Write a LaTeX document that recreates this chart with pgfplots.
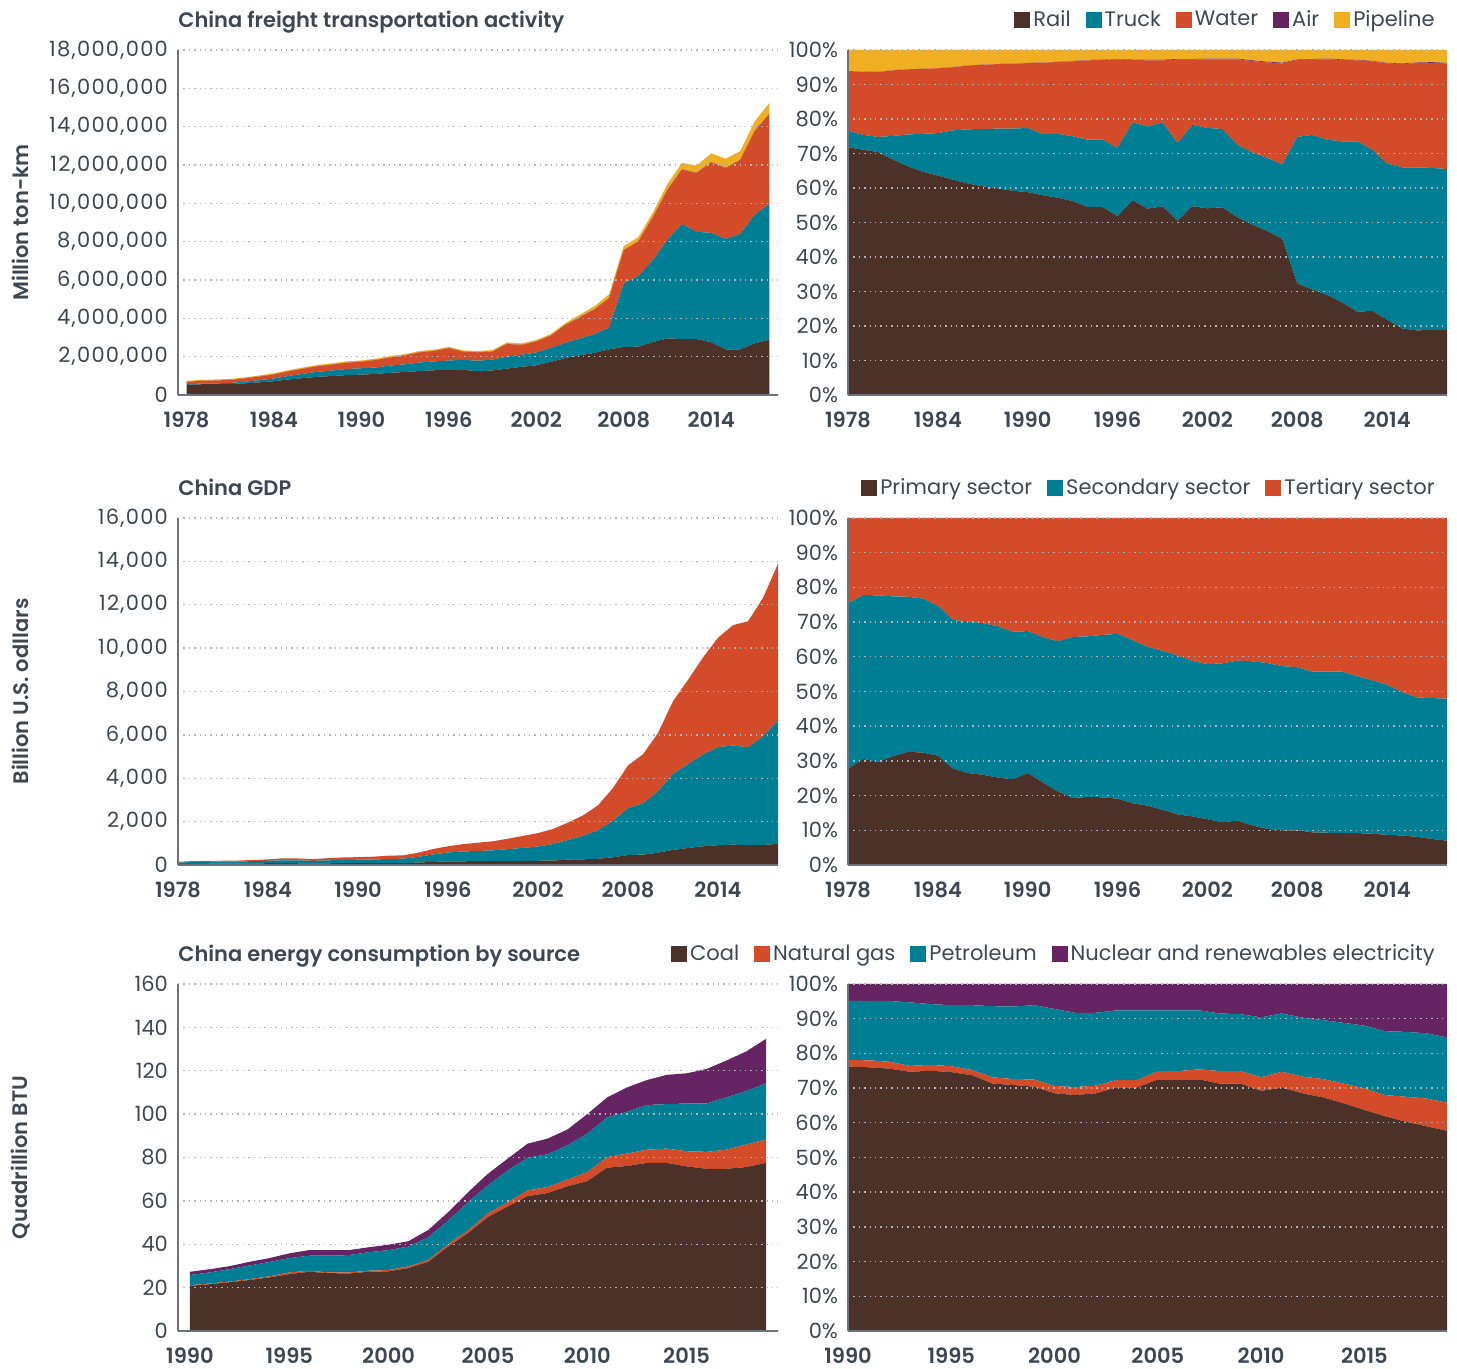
\documentclass[border=0pt]{standalone}
\usepackage{fontspec}
\setmainfont{Poppins}[BoldFont={Poppins SemiBold}]
\usepackage{pgfplots}
\usepackage{pgfplotstable}
\pgfplotsset{compat=1.18}

\definecolor{cBrown}{HTML}{4B3128}
\definecolor{cTeal}{HTML}{007F94}
\definecolor{cRed}{HTML}{D44B29}
\definecolor{cPurple}{HTML}{662562}
\definecolor{cYellow}{HTML}{F0AE22}
\definecolor{txt}{HTML}{3D4752}
\definecolor{axgray}{HTML}{6B747C}
\definecolor{gridgray}{HTML}{B0B5BA}

% freight activity, million ton-km
\pgfplotstableread{
year rail truck water air pipe
1978 530000 35000 128000 100 45000
1979 560000 34000 144000 100 50000
1980 570000 36000 152000 100 52000
1981 570000 58000 159000 100 49000
1982 610000 85000 174000 200 52000
1983 660000 112000 192000 200 56000
1984 720000 139000 213000 300 60000
1985 810000 186000 238000 400 65000
1986 880000 225000 266000 500 65000
1987 950000 261000 292000 700 68000
1988 990000 286000 309000 700 68000
1989 1040000 316000 330000 700 70000
1990 1060000 335000 339000 800 67000
1991 1100000 336000 393000 1000 68000
1992 1160000 375000 422000 1300 69000
1993 1200000 401000 463000 1700 68000
1994 1250000 447000 528000 1900 67000
1995 1290000 462000 547000 2200 66000
1996 1300000 497000 645000 2500 65000
1997 1310000 525000 420000 2900 65000
1998 1240000 546000 441000 3400 67000
1999 1280000 569000 421000 4200 68000
2000 1380000 619000 663000 5000 74000
2001 1470000 634000 508000 4400 73000
2002 1550000 668000 570000 5200 74000
2003 1730000 722000 642000 5800 83000
2004 1930000 787000 930000 7200 97000
2005 2070000 876000 1110000 7900 130000
2006 2200000 982000 1283000 9400 162000
2007 2380000 1130000 1539000 11600 194000
2008 2510000 3303000 1733000 12000 210000
2009 2520000 3689000 1795000 12600 214000
2010 2760000 4283000 2217000 17900 238000
2011 2950000 5142000 2598000 17400 297000
2012 2920000 5987000 2848000 16400 339000
2013 2920000 5590000 3064000 17000 371000
2014 2750000 5712000 3657000 18800 467000
2015 2380000 5758000 3687000 20800 481000
2016 2380000 6021000 3844000 22200 458000
2017 2700000 6702000 4358000 24300 500000
2018 2880000 7102000 4663000 26200 564000
}\freight

% freight shares, percent
\pgfplotstableread{
year rail truck water air pipe
1978 71.8 4.8 17.3 0.02 6.08
1979 71.1 4.3 18.3 0.02 6.28
1980 70.4 4.4 18.8 0.02 6.38
1981 68.2 6.9 19.0 0.02 5.88
1982 66.3 9.2 18.9 0.02 5.58
1983 64.7 11.0 18.8 0.02 5.48
1984 63.6 12.3 18.8 0.02 5.28
1985 62.4 14.3 18.3 0.02 4.98
1986 61.3 15.7 18.5 0.02 4.48
1987 60.5 16.6 18.6 0.03 4.27
1988 59.9 17.3 18.7 0.03 4.07
1989 59.2 18.0 18.8 0.03 3.97
1990 58.8 18.6 18.8 0.05 3.75
1991 57.9 17.7 20.7 0.05 3.65
1992 57.2 18.5 20.8 0.06 3.44
1993 56.2 18.8 21.7 0.08 3.22
1994 54.5 19.5 23.0 0.08 2.92
1995 54.5 19.5 23.1 0.09 2.81
1996 51.8 19.8 25.7 0.10 2.60
1997 56.4 22.6 18.1 0.12 2.78
1998 54.0 23.8 19.2 0.15 2.85
1999 54.7 24.3 18.0 0.18 2.82
2000 50.4 22.6 24.2 0.18 2.62
2001 54.7 23.6 18.9 0.16 2.64
2002 54.1 23.3 19.9 0.18 2.52
2003 54.4 22.7 20.2 0.18 2.52
2004 51.5 21.0 24.8 0.19 2.51
2005 49.4 20.9 26.5 0.19 3.01
2006 47.5 21.2 27.7 0.20 3.40
2007 45.3 21.5 29.3 0.22 3.68
2008 32.3 42.5 22.3 0.15 2.75
2009 30.6 44.8 21.8 0.15 2.65
2010 29.0 45.0 23.3 0.19 2.51
2011 26.8 46.7 23.6 0.16 2.74
2012 24.1 49.4 23.5 0.14 2.86
2013 24.4 46.7 25.6 0.14 3.16
2014 21.8 45.3 29.0 0.15 3.75
2015 19.3 46.7 29.9 0.17 3.93
2016 18.7 47.3 30.2 0.17 3.63
2017 18.9 46.9 30.5 0.17 3.53
2018 18.9 46.6 30.6 0.17 3.73
}\freightpct

% GDP, billion US dollars
\pgfplotstableread{
year prim sec ter
1978 41.4 71.3 36.8
1979 54.6 84.2 39.6
1980 56.8 91.7 42.6
1981 61.3 90.3 44.3
1982 66.9 91.7 46.6
1983 74.7 102.4 53.5
1984 81.9 112.3 65.8
1985 86.0 132.5 91.0
1986 79.7 131.5 89.6
1987 71.0 119.3 82.7
1988 78.7 136.2 97.5
1989 86.0 147.9 114.1
1990 95.6 147.6 117.7
1991 91.3 160.6 131.5
1992 90.5 184.8 151.5
1993 85.8 206.3 152.5
1994 110.6 261.3 192.4
1995 143.2 343.8 247.5
1996 165.0 410.3 288.5
1997 171.2 451.9 338.5
1998 176.0 471.3 381.7
1999 173.9 501.1 419.0
2000 176.9 554.8 479.7
2001 187.5 600.0 551.8
2002 194.1 657.4 619.1
2003 204.2 760.4 695.7
2004 250.3 901.4 803.6
2005 260.6 1081.2 944.1
2006 286.2 1315.5 1150.4
2007 355.0 1679.3 1516.0
2008 459.4 2159.3 1975.5
2009 479.6 2362.1 2260.1
2010 566.1 2824.5 2696.6
2011 694.7 3511.4 3345.3
2012 785.0 3856.6 3890.7
2013 861.3 4230.1 4479.0
2014 911.4 4525.5 5038.8
2015 940.2 4568.4 5553.0
2016 909.9 4515.8 5807.6
2017 923.3 4998.0 6389.1
2018 972.6 5683.0 7239.2
}\gdp

% GDP shares, percent
\pgfplotstableread{
year prim sec ter
1978 27.7 47.7 24.6
1979 30.6 47.2 22.2
1980 29.7 48.0 22.3
1981 31.3 46.1 22.6
1982 32.6 44.7 22.7
1983 32.4 44.4 23.2
1984 31.5 43.2 25.3
1985 27.8 42.8 29.4
1986 26.5 43.7 29.8
1987 26.0 43.7 30.3
1988 25.2 43.6 31.2
1989 24.7 42.5 32.8
1990 26.5 40.9 32.6
1991 23.8 41.9 34.3
1992 21.2 43.3 35.5
1993 19.3 46.4 34.3
1994 19.6 46.3 34.1
1995 19.5 46.8 33.7
1996 19.1 47.5 33.4
1997 17.8 47.0 35.2
1998 17.1 45.8 37.1
1999 15.9 45.8 38.3
2000 14.6 45.8 39.6
2001 14.0 44.8 41.2
2002 13.2 44.7 42.1
2003 12.3 45.8 41.9
2004 12.8 46.1 41.1
2005 11.4 47.3 41.3
2006 10.4 47.8 41.8
2007 10.0 47.3 42.7
2008 10.0 47.0 43.0
2009 9.4 46.3 44.3
2010 9.3 46.4 44.3
2011 9.2 46.5 44.3
2012 9.2 45.2 45.6
2013 9.0 44.2 46.8
2014 8.7 43.2 48.1
2015 8.5 41.3 50.2
2016 8.1 40.2 51.7
2017 7.5 40.6 51.9
2018 7.0 40.9 52.1
}\gdppct

% energy consumption, quadrillion BTU
\pgfplotstableread{
year coal gas pet nuc
1990 20.8 0.3 4.7 1.5
1991 21.6 0.3 5.1 1.5
1992 22.5 0.3 5.7 1.4
1993 23.5 0.4 6.3 1.7
1994 24.7 0.5 6.6 1.8
1995 26.2 0.8 6.6 2.2
1996 27.3 0.5 6.9 2.6
1997 26.7 0.3 7.7 2.6
1998 26.5 0.5 8.0 2.3
1999 27.3 0.5 8.5 2.3
2000 27.5 0.6 9.2 2.5
2001 29.0 0.8 9.1 2.5
2002 31.9 0.8 10.5 3.4
2003 38.9 1.2 10.8 3.9
2004 45.1 1.2 13.1 4.6
2005 52.5 1.8 12.8 5.4
2006 57.4 2.0 14.7 5.4
2007 62.2 2.6 15.1 6.5
2008 63.6 2.8 15.1 7.2
2009 66.7 3.1 15.8 7.3
2010 69.1 4.2 17.7 9.0
2011 75.3 4.9 18.3 9.2
2012 76.1 5.7 19.3 11.2
2013 77.5 6.1 20.6 11.5
2014 77.5 6.6 20.5 13.5
2015 75.9 7.0 22.0 13.9
2016 74.8 7.8 22.3 15.9
2017 74.8 8.8 24.1 17.0
2018 75.6 10.4 24.6 18.3
2019 77.5 10.8 25.9 20.5
}\energy

% energy shares, percent
\pgfplotstableread{
year coal gas pet nuc
1990 76.2 1.9 17.0 4.9
1991 76.0 2.0 17.1 4.9
1992 75.6 2.0 17.5 4.9
1993 74.7 1.7 18.3 5.3
1994 75.0 1.7 17.5 5.8
1995 74.6 1.7 17.6 6.1
1996 73.7 1.5 18.7 6.1
1997 71.3 1.8 20.5 6.4
1998 70.9 1.7 20.9 6.5
1999 70.4 2.1 21.4 6.1
2000 68.5 2.1 22.2 7.2
2001 68.0 2.3 21.4 8.3
2002 68.5 2.2 21.0 8.3
2003 70.2 2.1 20.1 7.6
2004 70.2 2.1 20.1 7.6
2005 72.5 2.4 17.5 7.6
2006 72.5 2.4 17.5 7.6
2007 72.5 2.9 17.0 7.6
2008 71.3 3.6 16.6 8.5
2009 71.3 3.6 16.4 8.7
2010 69.2 3.9 17.3 9.6
2011 70.1 4.6 16.8 8.5
2012 68.5 4.8 17.0 9.7
2013 67.3 5.3 17.0 10.4
2014 65.6 5.7 17.5 11.2
2015 63.7 6.2 18.1 12.0
2016 61.9 6.1 18.4 13.6
2017 60.3 7.2 18.7 13.8
2018 59.0 8.0 18.8 14.2
2019 57.7 8.1 18.8 15.4
}\energypct

\newcommand{\tickfont}{\fontsize{10.5}{12}\selectfont}
\newcommand{\widefont}{\fontsize{10.5}{12}\selectfont\addfontfeature{LetterSpace=6}}

\pgfplotsset{
  panel/.style={
    scale only axis, anchor=south west,
    axis x line*=bottom, axis y line*=left,
    axis line style={axgray, line width=0.8pt},
    major tick length=0pt,
    /pgf/number format/assume math mode=true,
    tick label style={font=\tickfont, text=txt},
    yticklabel style={xshift=-1.5pt},
    xticklabel style={font=\tickfont\bfseries, yshift=-5pt, /pgf/number format/1000 sep={}},
    ymajorgrids, grid style={gridgray, line width=0.7pt, dash pattern=on 0.7pt off 2pt},
    stack plots=y, area style, ymin=0,
    title style={at={(0,1)}, anchor=base west, inner sep=0pt, yshift=5pt, font=\tickfont\bfseries, text=txt},
    ylabel style={at={(axis description cs:-0.263,0.5)}, anchor=center, font=\tickfont\bfseries, text=txt},
  },
  bignum/.style={
    scaled y ticks=false,
    yticklabel style={font=\widefont, /pgf/number format/.cd, fixed, precision=0, 1000 sep={,}},
  },
  pct/.style={
    panel, ymax=100, ytick={0,10,...,100},
    yticklabel={\pgfmathprintnumber{\tick}\%},
    legend columns=-1,
    legend image code/.code={\path[##1] (0pt,-4pt) rectangle (8pt,4pt);},
    legend style={draw=none, fill=none, at={(1,1)}, anchor=south east,
      xshift=-4.5pt, yshift=10pt, inner sep=0pt, font=\tickfont, text=txt,
      nodes={inner xsep=1.5pt, inner ysep=0pt},
      /tikz/every even column/.append style={column sep=6pt}},
  },
}

\begin{document}
\begin{tikzpicture}
\useasboundingbox (0,0) rectangle (728.5pt,684.5pt);

% freight, absolute
\begin{axis}[panel, bignum, at={(89pt,487pt)}, width=300pt, height=172.5pt,
  xmin=1977.41, xmax=2018.59, xtick={1978,1984,...,2014},
  ymax=18000000, ytick={0,2000000,...,18000000},
  title={China freight transportation activity},
  ylabel={Million ton-km}]
\addplot[fill=cBrown, draw=none] table[x=year, y=rail] {\freight} \closedcycle;
\addplot[fill=cTeal, draw=none] table[x=year, y=truck] {\freight} \closedcycle;
\addplot[fill=cRed, draw=none] table[x=year, y=water] {\freight} \closedcycle;
\addplot[fill=cPurple, draw=none] table[x=year, y=air] {\freight} \closedcycle;
\addplot[fill=cYellow, draw=none] table[x=year, y=pipe] {\freight} \closedcycle;
\end{axis}

% freight, shares
\begin{axis}[pct, at={(424pt,487pt)}, width=299.5pt, height=172.5pt,
  xmin=1978, xmax=2018, xtick={1978,1984,...,2014}]
\addplot[fill=cBrown, draw=none] table[x=year, y=rail] {\freightpct} \closedcycle;
\addlegendentry{Rail}
\addplot[fill=cTeal, draw=none] table[x=year, y=truck] {\freightpct} \closedcycle;
\addlegendentry{Truck}
\addplot[fill=cRed, draw=none] table[x=year, y=water] {\freightpct} \closedcycle;
\addlegendentry{Water}
\addplot[fill=cPurple, draw=none] table[x=year, y=air] {\freightpct} \closedcycle;
\addlegendentry{Air}
\addplot[fill=cYellow, draw=none] table[x=year, y=pipe] {\freightpct} \closedcycle;
\addlegendentry{Pipeline}
\end{axis}

% GDP, absolute
\begin{axis}[panel, bignum, at={(89pt,252pt)}, width=300pt, height=173.5pt,
  xmin=1978, xmax=2018, xtick={1978,1984,...,2014},
  ymax=16000, ytick={0,2000,...,16000},
  title={China GDP},
  ylabel={Billion U.S. odllars}]
\addplot[fill=cBrown, draw=none] table[x=year, y=prim] {\gdp} \closedcycle;
\addplot[fill=cTeal, draw=none] table[x=year, y=sec] {\gdp} \closedcycle;
\addplot[fill=cRed, draw=none] table[x=year, y=ter] {\gdp} \closedcycle;
\end{axis}

% GDP, shares
\begin{axis}[pct, at={(424pt,252pt)}, width=299.5pt, height=173.5pt,
  xmin=1978, xmax=2018, xtick={1978,1984,...,2014}]
\addplot[fill=cBrown, draw=none] table[x=year, y=prim] {\gdppct} \closedcycle;
\addlegendentry{Primary sector}
\addplot[fill=cTeal, draw=none] table[x=year, y=sec] {\gdppct} \closedcycle;
\addlegendentry{Secondary sector}
\addplot[fill=cRed, draw=none] table[x=year, y=ter] {\gdppct} \closedcycle;
\addlegendentry{Tertiary sector}
\end{axis}

% energy, absolute
\begin{axis}[panel, at={(89pt,19pt)}, width=300pt, height=173.5pt,
  xmin=1989.4, xmax=2019.6, xtick={1990,1995,...,2015},
  ymax=160, ytick={0,20,...,160},
  title={China energy consumption by source},
  ylabel={Quadrillion BTU}]
\addplot[fill=cBrown, draw=none] table[x=year, y=coal] {\energy} \closedcycle;
\addplot[fill=cRed, draw=none] table[x=year, y=gas] {\energy} \closedcycle;
\addplot[fill=cTeal, draw=none] table[x=year, y=pet] {\energy} \closedcycle;
\addplot[fill=cPurple, draw=none] table[x=year, y=nuc] {\energy} \closedcycle;
\end{axis}

% energy, shares
\begin{axis}[pct, at={(424pt,19pt)}, width=299.5pt, height=173.5pt,
  xmin=1990, xmax=2019, xtick={1990,1995,...,2015}]
\addplot[fill=cBrown, draw=none] table[x=year, y=coal] {\energypct} \closedcycle;
\addlegendentry{Coal}
\addplot[fill=cRed, draw=none] table[x=year, y=gas] {\energypct} \closedcycle;
\addlegendentry{Natural gas}
\addplot[fill=cTeal, draw=none] table[x=year, y=pet] {\energypct} \closedcycle;
\addlegendentry{Petroleum}
\addplot[fill=cPurple, draw=none] table[x=year, y=nuc] {\energypct} \closedcycle;
\addlegendentry{Nuclear and renewables electricity}
\end{axis}
\end{tikzpicture}
\end{document}
